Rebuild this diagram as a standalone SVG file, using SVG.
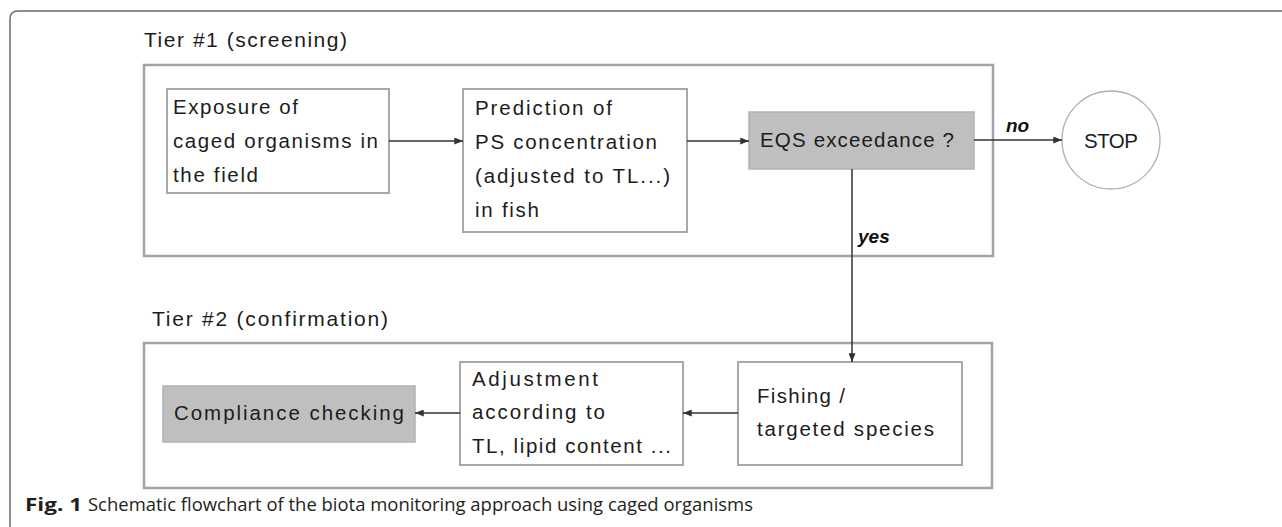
<svg xmlns="http://www.w3.org/2000/svg" width="1282" height="527" viewBox="0 0 1282 527">
<defs>
<style>
.frame{fill:none;stroke:#6a6a6a;stroke-width:1.5}
.tier{fill:#fff;stroke:#a3a3a3;stroke-width:2.5}
.box{fill:#fff;stroke:#a8a8a8;stroke-width:2}
.gbox{fill:#bfbfbf;stroke:#b3b3b3;stroke-width:1.5}
.stop{fill:#fff;stroke:#b0b0b0;stroke-width:1.3}
.t{font-family:"Liberation Sans",Arial,sans-serif;font-size:20.5px;fill:#1c1c1c}
.tl{font-family:"Liberation Sans",Arial,sans-serif;font-size:21px;fill:#1c1c1c}
.conn{stroke:#333;stroke-width:1.5;fill:none;marker-end:url(#ah)}
.lbl{font-family:"Liberation Sans",Arial,sans-serif;font-weight:bold;font-style:italic;font-size:19px;fill:#111}
.cap{font-family:"Open Sans","Noto Sans",sans-serif;font-size:17.5px;fill:#231f20}
</style>
<marker id="ah" viewBox="0 0 10 8" refX="10" refY="4" markerWidth="9" markerHeight="7" markerUnits="userSpaceOnUse" orient="auto">
<path d="M0,0 L10,4 L0,8 z" fill="#333"/>
</marker>
</defs>
<rect width="1282" height="527" fill="#fff"/>
<path class="frame" d="M10,527 V19 Q10,11 18,11 H1282"/>

<g id="tier1">
<text class="tl" x="144" y="47" textLength="203" lengthAdjust="spacing">Tier #1 (screening)</text>
<rect class="tier" x="144" y="65" width="849" height="191"/>
</g>
<g id="tier2">
<text class="tl" x="152" y="326" textLength="236" lengthAdjust="spacing">Tier #2 (confirmation)</text>
<rect class="tier" x="144" y="343" width="848" height="145"/>
</g>

<g id="exposure">
<rect class="box" x="167" y="89" width="222" height="104"/>
<text class="t" x="173" y="114" textLength="125" lengthAdjust="spacing">Exposure of</text>
<text class="t" x="173" y="148" textLength="205" lengthAdjust="spacing">caged organisms in</text>
<text class="t" x="173" y="182" textLength="85" lengthAdjust="spacing">the field</text>
</g>
<g id="prediction">
<rect class="box" x="463" y="89" width="224" height="143"/>
<text class="t" x="475" y="115" textLength="137" lengthAdjust="spacing">Prediction of</text>
<text class="t" x="475" y="149" textLength="182" lengthAdjust="spacing">PS concentration</text>
<text class="t" x="475" y="183" textLength="195" lengthAdjust="spacing">(adjusted to TL...)</text>
<text class="t" x="475" y="217" textLength="64" lengthAdjust="spacing">in fish</text>
</g>
<g id="eqs">
<rect class="gbox" x="749" y="112" width="225" height="57"/>
<text class="t" x="760" y="147" textLength="194" lengthAdjust="spacing">EQS exceedance ?</text>
</g>
<g id="stop">
<circle class="stop" cx="1111" cy="140" r="49"/>
<text class="t" x="1084" y="148" textLength="54" lengthAdjust="spacing">STOP</text>
</g>
<g id="fishing">
<rect class="box" x="738" y="362" width="224" height="103"/>
<text class="t" x="757" y="403" textLength="88" lengthAdjust="spacing">Fishing /</text>
<text class="t" x="757" y="436" textLength="177" lengthAdjust="spacing">targeted species</text>
</g>
<g id="adjustment">
<rect class="box" x="460" y="362" width="223" height="103"/>
<text class="t" x="472" y="386" textLength="126" lengthAdjust="spacing">Adjustment</text>
<text class="t" x="472" y="419" textLength="133" lengthAdjust="spacing">according to</text>
<text class="t" x="472" y="453" textLength="199" lengthAdjust="spacing">TL, lipid content ...</text>
</g>
<g id="compliance">
<rect class="gbox" x="163" y="386" width="252" height="56"/>
<text class="t" x="174" y="420" textLength="230" lengthAdjust="spacing">Compliance checking</text>
</g>

<g id="connectors">
<path class="conn" d="M389,141 H463"/>
<path class="conn" d="M687,141 H749"/>
<path class="conn" d="M974,140 H1062"/>
<path class="conn" d="M852,169 V362"/>
<path class="conn" d="M738,413 H683"/>
<path class="conn" d="M460,413 H415"/>
<text class="lbl" x="1006" y="132">no</text>
<text class="lbl" x="858" y="243">yes</text>
</g>

<g id="caption">
<text class="cap" x="25" y="511" font-weight="bold" textLength="57" lengthAdjust="spacingAndGlyphs">Fig. 1</text>
<text class="cap" x="88" y="511" textLength="665" lengthAdjust="spacingAndGlyphs">Schematic flowchart of the biota monitoring approach using caged organisms</text>
</g>
</svg>
